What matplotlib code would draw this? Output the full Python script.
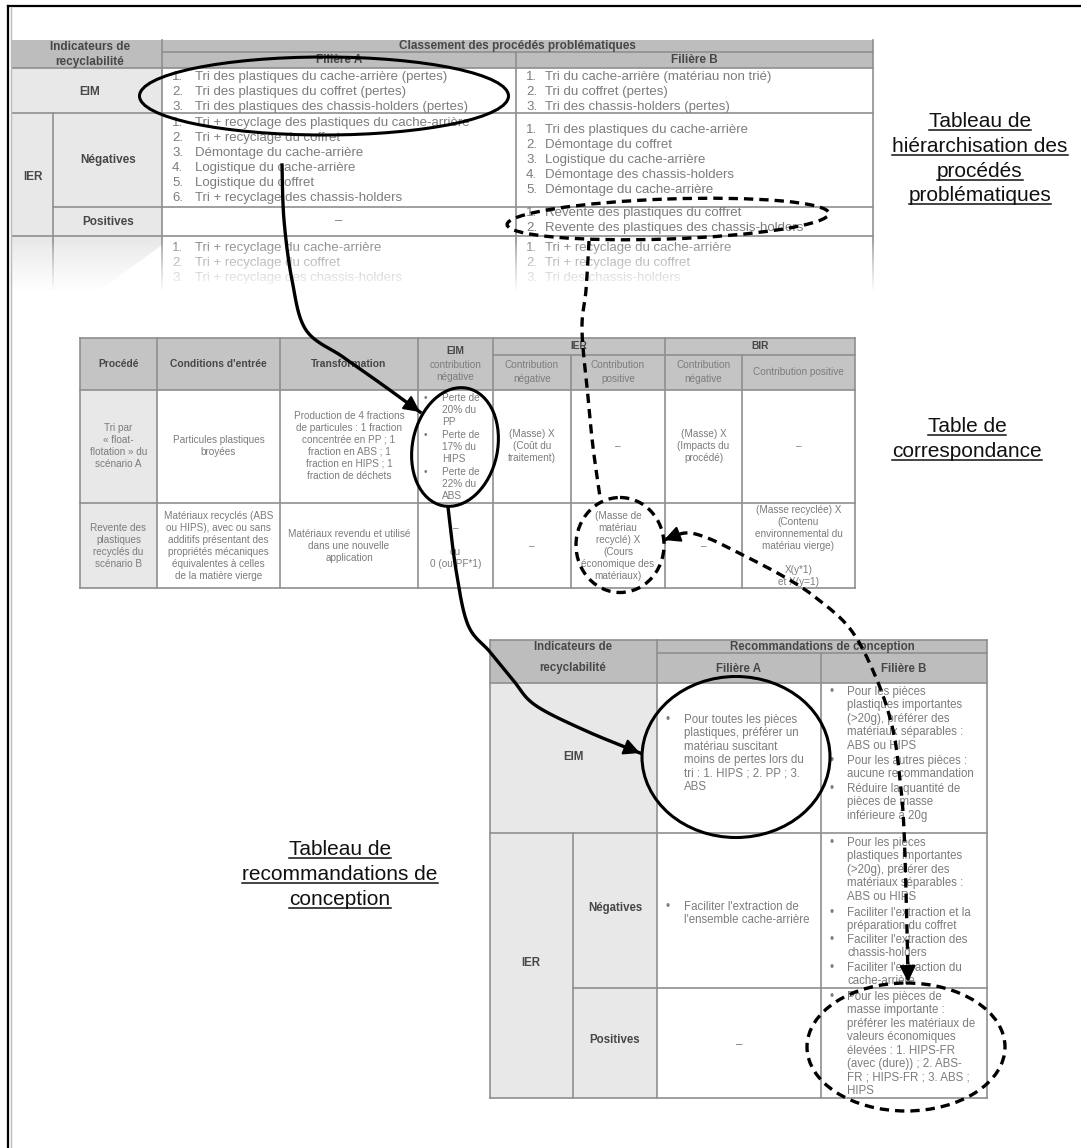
import numpy as np
import matplotlib
matplotlib.use("Agg")
import matplotlib.pyplot as plt
from matplotlib.patches import Rectangle, Ellipse, Polygon

plt.rcParams['font.family'] = ['Liberation Sans', 'DejaVu Sans']

# ---- Tableau 1 : hiérarchisation des procédés problématiques
t1_titre = "Classement des procédés problématiques"
t1_indic = ["Indicateurs de", "recyclabilité"]
t1_filieres = ["Filière A", "Filière B"]
t1_eim_a = ["Tri des plastiques du cache-arrière (pertes)",
            "Tri des plastiques du coffret (pertes)",
            "Tri des plastiques des chassis-holders (pertes)"]
t1_eim_b = ["Tri du cache-arrière (matériau non trié)",
            "Tri du coffret (pertes)",
            "Tri des chassis-holders (pertes)"]
t1_neg_a = ["Tri + recyclage des plastiques du cache-arrière",
            "Tri + recyclage du coffret",
            "Démontage du cache-arrière",
            "Logistique du cache-arrière",
            "Logistique du coffret",
            "Tri + recyclage des chassis-holders"]
t1_neg_b = ["Tri des plastiques du cache-arrière",
            "Démontage du coffret",
            "Logistique du cache-arrière",
            "Démontage des chassis-holders",
            "Démontage du cache-arrière"]
t1_pos_b = ["Revente des plastiques du coffret",
            "Revente des plastiques des chassis-holders"]
t1_suite_a = ["Tri + recyclage du cache-arrière", "Tri + recyclage du coffret",
              "Tri + recyclage des chassis-holders"]
t1_suite_b = ["Tri + recyclage du cache-arrière", "Tri + recyclage du coffret",
              "Tri des chassis-holders"]

# ---- Tableau 2 : table de correspondance
t2_entetes = ["Procédé", "Conditions d'entrée", "Transformation"]
t2_eim = ["EIM", "contribution", "négative"]
t2_groupes = ["IER", "BIR"]
t2_sous = [["Contribution", "négative"], ["Contribution", "positive"],
           ["Contribution", "négative"], ["Contribution positive"]]
t2_l1 = [["Tri par", "« float-", "flotation » du", "scénario A"],
         ["Particules plastiques", "broyées"],
         ["Production de 4 fractions", "de particules : 1 fraction", "concentrée en PP ; 1",
          "fraction en ABS ; 1", "fraction en HIPS ; 1", "fraction de déchets"],
         None,
         ["(Masse) X", "(Coût du", "traitement)"],
         ["–"],
         ["(Masse) X", "(Impacts du", "procédé)"],
         ["–"]]
t2_l1_eim = ["Perte de\n20% du\nPP", "Perte de\n17% du\nHIPS", "Perte de\n22% du\nABS"]
t2_l2 = [["Revente des", "plastiques", "recyclés du", "scénario B"],
         ["Matériaux recyclés (ABS", "ou HIPS), avec ou sans", "additifs présentant des",
          "propriétés mécaniques", "équivalentes à celles", "de la matière vierge"],
         ["Matériaux revendu et utilisé", "dans une nouvelle", "application"],
         ["–", "", "ou", "0 (ou PF*1)"],
         ["–"],
         ["(Masse de", "matériau", "recyclé) X", "(Cours", "économique des", "matériaux)"],
         ["–"],
         ["(Masse recyclée) X", "(Contenu", "environnemental du", "matériau vierge)", "",
          "X(y*1)", "et X(y=1)"]]

# ---- Tableau 3 : recommandations de conception
t3_titre = "Recommandations de conception"
t3_eim_a = ["Pour toutes les pièces\nplastiques, préférer un\nmatériau suscitant\n"
            "moins de pertes lors du\ntri : 1. HIPS ; 2. PP ; 3.\nABS"]
t3_eim_b = ["Pour les pièces\nplastiques importantes\n(>20g), préférer des\n"
            "matériaux séparables :\nABS ou HIPS",
            "Pour les autres pièces :\naucune recommandation",
            "Réduire la quantité de\npièces de masse\ninférieure à 20g"]
t3_neg_a = ["Faciliter l'extraction de\nl'ensemble cache-arrière"]
t3_neg_b = ["Pour les pièces\nplastiques importantes\n(>20g), préférer des\n"
            "matériaux séparables :\nABS ou HIPS",
            "Faciliter l'extraction et la\npréparation du coffret",
            "Faciliter l'extraction des\nchassis-holders",
            "Faciliter l'extraction du\ncache-arrière"]
t3_pos_b = ["Pour les pièces de\nmasse importante :\npréférer les matériaux de\n"
            "valeurs économiques\nélevées : 1. HIPS-FR\n(avec (dure)) ; 2. ABS-\n"
            "FR ; HIPS-FR ; 3. ABS ;\nHIPS"]

# ---- légendes
leg_hier = ["Tableau de", "hiérarchisation des", "procédés", "problématiques"]
leg_corr = ["Table de", "correspondance"]
leg_reco = ["Tableau de", "recommandations de", "conception"]

GRID = '#8f8f8f'
HEAD = '#bdbdbd'
SIDE = '#e8e8e8'
TXT = '#7c7c7c'
HTXT = '#474747'
DASH = (0, (2.8, 1.8))

fig = plt.figure(figsize=(10.81, 11.48), dpi=100)
ax = fig.add_axes([0, 0, 1, 1])
ax.set_xlim(0, 1081)
ax.set_ylim(1148, 0)
ax.axis('off')


def box(x0, y0, x1, y1, fc):
    ax.add_patch(Rectangle((x0, y0), x1 - x0, y1 - y0, facecolor=fc, edgecolor='none', zorder=1))


def hline(y, x0, x1):
    ax.plot([x0, x1], [y, y], color=GRID, lw=1.2, zorder=2)


def vline(x, y0, y1):
    ax.plot([x, x], [y0, y1], color=GRID, lw=1.2, zorder=2)


def txt(x, y, s, size, ha='left', bold=False):
    ax.text(x, y, s, fontsize=size, ha=ha, va='center', zorder=3,
            fontweight='bold' if bold else 'normal', color=HTXT if bold else TXT)


def stack(x, yc, lines, size, dy, bold=False):
    y0 = yc - dy * (len(lines) - 1) / 2
    for i, s in enumerate(lines):
        txt(x, y0 + i * dy, s, size, 'center', bold)


def numbered(xn, xt, y0, items, size=9.5, dy=15):
    for i, s in enumerate(items):
        txt(xn, y0 + i * dy, f"{i + 1}.", size)
        txt(xt, y0 + i * dy, s, size)


def bullets(xb, xt, starts, paras, size=8.3, dy=13.4):
    for y0, p in zip(starts, paras):
        txt(xb, y0, '•', size)
        for i, s in enumerate(p.split('\n')):
            txt(xt, y0 + i * dy, s, size)


def smooth(pts, n=20):
    p = np.array(pts, float)
    p = np.vstack([p[0], p, p[-1]])
    out = []
    for i in range(1, len(p) - 2):
        p0, p1, p2, p3 = p[i - 1], p[i], p[i + 1], p[i + 2]
        for t in np.linspace(0, 1, n, endpoint=False):
            out.append(0.5 * (2 * p1 + (-p0 + p2) * t + (2 * p0 - 5 * p1 + 4 * p2 - p3) * t ** 2
                              + (-p0 + 3 * p1 - 3 * p2 + p3) * t ** 3))
    out.append(p[-2])
    return np.array(out)


def head(tip, tail):
    ax.annotate('', xy=tip, xytext=tail, zorder=11,
                arrowprops=dict(arrowstyle='-|>,head_length=0.7,head_width=0.35', color='k',
                                lw=1.5, shrinkA=0, shrinkB=0, mutation_scale=14))


def curve(pts, dashed=False, end=True, start=False):
    c = smooth(pts)
    ax.plot(c[:, 0], c[:, 1], color='k', lw=2.4, ls=DASH if dashed else '-', zorder=10)
    if end:
        head(c[-1], c[-4])
    if start:
        head(c[0], c[3])


def underlined(x, baselines, lines, size=15):
    r = fig.canvas.get_renderer()
    inv = ax.transData.inverted()
    for yb, s in zip(baselines, lines):
        t = ax.text(x, yb, s, fontsize=size, ha='center', va='baseline', color='#111111', zorder=12)
        bb = t.get_window_extent(r)
        xa = inv.transform((bb.x0, bb.y0))[0]
        xb = inv.transform((bb.x1, bb.y0))[0]
        ax.plot([xa, xb], [yb + 3, yb + 3], color='#111111', lw=1.1, zorder=12)


# ================= Tableau 1 =================
box(12, 40, 873, 68, HEAD)
box(12, 68, 162, 113, SIDE)
box(12, 113, 53, 290, SIDE)
box(53, 113, 162, 235, SIDE)
ax.add_patch(Polygon([(53, 235), (162, 235), (162, 245), (100, 290), (53, 290)],
                     facecolor=SIDE, edgecolor='none', zorder=1))
hline(52, 162, 873)
for y in (68, 113, 236):
    hline(y, 12, 873)
hline(207, 53, 873)
vline(53, 113, 290)
vline(162, 40, 290)
vline(516, 52, 290)
vline(873, 40, 290)
stack(90, 54, t1_indic, 8.5, 15, bold=True)
txt(517, 46, t1_titre, 8.5, 'center', True)
txt(339, 60, t1_filieres[0], 8.5, 'center', True)
txt(694, 60, t1_filieres[1], 8.5, 'center', True)
txt(90, 92, "EIM", 8.5, 'center', True)
txt(33, 177, "IER", 8.5, 'center', True)
txt(108, 160, "Négatives", 8.5, 'center', True)
txt(108, 222, "Positives", 8.5, 'center', True)
numbered(172, 195, 77, t1_eim_a)
numbered(526, 545, 77, t1_eim_b)
numbered(172, 195, 123, t1_neg_a)
numbered(526, 545, 130, t1_neg_b)
txt(339, 221, "–", 9.5, 'center')
numbered(526, 545, 213, t1_pos_b)
numbered(172, 195, 248, t1_suite_a)
numbered(526, 545, 248, t1_suite_b)

grad = np.ones((60, 2, 4))
grad[:, :, 3] = (np.linspace(0, 1, 60) ** 0.8)[:, None]
ax.imshow(grad, extent=(0, 900, 292, 240), aspect='auto', zorder=5, interpolation='bilinear')

# ================= Tableau 2 =================
c2 = [80, 157, 280, 418, 493, 571, 665, 742, 855]
box(80, 338, 855, 390, '#c4c4c4')
box(80, 390, 157, 588, SIDE)
hline(338, 80, 855)
hline(355, 493, 855)
for y in (390, 503, 588):
    hline(y, 80, 855)
for x in (80, 157, 280, 418, 493, 665, 855):
    vline(x, 338, 588)
vline(571, 355, 588)
vline(742, 355, 588)
mid = [(a + b) / 2 for a, b in zip(c2[:-1], c2[1:])]
for x, s in zip(mid[:3], t2_entetes):
    txt(x, 364, s, 7.4, 'center', True)
txt(mid[3], 351, t2_eim[0], 7.4, 'center', True)
stack(mid[3], 371, t2_eim[1:], 7.2, 12)
txt((493 + 665) / 2, 346, t2_groupes[0], 7.4, 'center', True)
txt((665 + 855) / 2, 346, t2_groupes[1], 7.4, 'center', True)
for x, s in zip(mid[4:], t2_sous):
    stack(x, 372, s, 7.2, 14)
for x, cell in zip(mid, t2_l1):
    if cell is not None:
        stack(x, 446, cell, 7.2, 12)
bullets(424, 442, [398, 435, 472], t2_l1_eim, size=7.2, dy=12)
for x, cell in zip(mid, t2_l2):
    stack(x, 546, cell, 7.2, 12)

# ================= Tableau 3 =================
box(490, 640, 987, 683, HEAD)
box(490, 683, 657, 1098, SIDE)
hline(640, 490, 987)
hline(653, 657, 987)
hline(683, 490, 987)
hline(833, 490, 987)
hline(988, 573, 987)
hline(1098, 490, 987)
vline(490, 640, 1098)
vline(657, 640, 1098)
vline(821, 653, 1098)
vline(987, 640, 1098)
vline(573, 833, 1098)
stack(573, 658, t1_indic, 8.3, 21, bold=True)
txt(822, 647, t3_titre, 8.3, 'center', True)
txt(739, 669, t1_filieres[0], 8.3, 'center', True)
txt(904, 669, t1_filieres[1], 8.3, 'center', True)
txt(573, 757, "EIM", 8.3, 'center', True)
txt(531, 963, "IER", 8.3, 'center', True)
txt(615, 908, "Négatives", 8.3, 'center', True)
txt(615, 1040, "Positives", 8.3, 'center', True)
bullets(665, 684, [720], t3_eim_a)
bullets(830, 847, [692, 761, 789], t3_eim_b)
bullets(665, 684, [907], t3_neg_a)
bullets(830, 847, [843, 913, 940, 968], t3_neg_b)
txt(739, 1045, "–", 8.3, 'center')
bullets(830, 847, [997], t3_pos_b)

# ================= cercles et flèches =================
ax.add_patch(Ellipse((324, 96), 369, 78, fill=False, ec='k', lw=2.2, zorder=10))
ax.add_patch(Ellipse((668, 219), 322, 40, angle=-2, fill=False, ec='k', lw=2.4, ls=DASH, zorder=10))
ax.add_patch(Ellipse((455, 447), 85, 120, angle=12, fill=False, ec='k', lw=2.2, zorder=10))
ax.add_patch(Ellipse((620, 545), 88, 95, fill=False, ec='k', lw=2.4, ls=DASH, zorder=10))
ax.add_patch(Ellipse((736, 757), 188, 161, fill=False, ec='k', lw=2.2, zorder=10))
ax.add_patch(Ellipse((906, 1047), 198, 128, fill=False, ec='k', lw=2.4, ls=DASH, zorder=10))

curve([(282, 165), (284, 220), (292, 280), (306, 330), (343, 357), (380, 383), (420, 412)])
curve([(448, 507), (456, 570), (468, 625), (490, 652), (513, 680), (535, 705), (584, 730),
       (640, 753)])
curve([(589, 241), (586, 290), (582, 330), (588, 397), (593, 447), (600, 497)], dashed=True, end=False)
curve([(664, 540), (685, 533), (705, 537), (733, 550), (781, 575), (815, 597), (851, 630),
       (877, 680), (893, 730), (900, 780), (904, 830), (907, 930), (908, 982)],
      dashed=True, start=True)

# ================= légendes =================
underlined(980, [127, 152, 177, 201], leg_hier)
underlined(967, [432, 457], leg_corr)
underlined(340, [855, 880, 905], leg_reco)

# cadre
ax.plot([8, 1081], [6, 6], color='k', lw=1.6, zorder=12)
ax.plot([8, 8], [6, 1148], color='k', lw=1.6, zorder=12)
ax.plot([10.5, 10.5], [7, 1148], color='#bbbbbb', lw=1, zorder=12)

ax.set_xlim(0, 1081)
ax.set_ylim(1148, 0)
fig.savefig("out.png", dpi=100)
